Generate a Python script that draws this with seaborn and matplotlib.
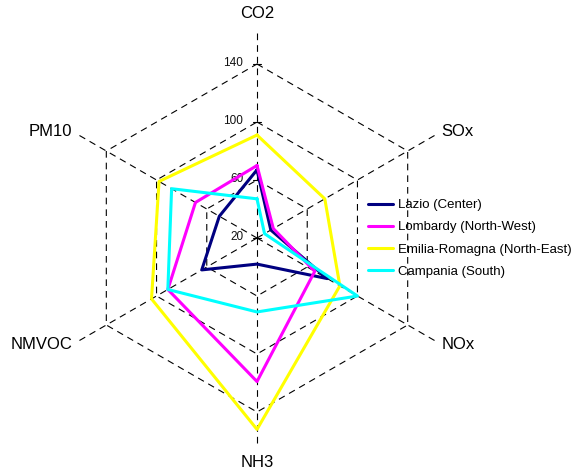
import matplotlib
matplotlib.use("Agg")
import matplotlib.pyplot as plt
import numpy as np
import pandas as pd
import seaborn as sns

# data
pollutants = ["CO2", "SOx", "NOx", "NH3", "NMVOC", "PM10"]
regions = ["Lazio (Center)", "Lombardy (North-West)",
           "Emilia-Romagna (North-East)", "Campania (South)"]
lazio = [67, 31, 76, 38, 64, 50]
lombardy = [70, 33, 66, 119, 91, 69]
emilia = [91, 74, 86, 152, 104, 98]
campania = [47, 26, 100, 71, 91, 88]
ring_values = [20, 60, 100, 140]
colors = ["#000080", "#FF00FF", "#FFFF00", "#00FFFF"]

r_min = ring_values[0]
angles = np.deg2rad(90 - 60 * np.arange(len(pollutants)))

sns.set_style("white")
plt.rcParams["font.family"] = ["Liberation Sans", "DejaVu Sans"]
plt.rcParams["text.color"] = "black"

fig = plt.figure(figsize=(5.78, 4.73), dpi=100)
ax = fig.add_axes([0, 0, 1, 1])
# 1.45 px per unit, center at pixel (257, 238)
scale = 1.45
xlim = (-257 / scale, (578 - 257) / scale)
ylim = (-(473 - 238) / scale, 238 / scale)
ax.axis("off")

grid_kw = dict(color="black", lw=0.8, dashes=(6, 4.5), zorder=1)
# hexagon rings
for v in ring_values[1:]:
    r = v - r_min
    xs = np.append(r * np.cos(angles), r * np.cos(angles[0]))
    ys = np.append(r * np.sin(angles), r * np.sin(angles[0]))
    ax.plot(xs, ys, **grid_kw)
# spokes
r_spoke = (ring_values[-1] - r_min) * 205 / 174
for a in angles:
    ax.plot([0, r_spoke * np.cos(a)], [0, r_spoke * np.sin(a)], **grid_kw)

# tick marks and labels on the vertical value axis
for v in ring_values:
    r = v - r_min
    ax.plot([-2.8, 2.8], [r, r], color="black", lw=0.8, zorder=1)
    ax.text(-9.5, r + 1, str(v), ha="right", va="center", fontsize=8.5, color="#111111")

# category labels
for name, a in zip(pollutants, angles):
    c, s = np.cos(a), np.sin(a)
    if abs(c) < 0.01:
        ax.text(155 * c, 155 * s, name, ha="center", va="center", fontsize=12)
    else:
        ax.text(147 * c, 147 * s, name, ha="left" if c > 0 else "right",
                va="center", fontsize=12)

# series
series = [lazio, lombardy, emilia, campania]
for name, vals, col in zip(regions, series, colors):
    r = np.array(vals + vals[:1], dtype=float) - r_min
    a = np.append(angles, angles[0])
    df = pd.DataFrame({"x": r * np.cos(a), "y": r * np.sin(a)})
    sns.lineplot(data=df, x="x", y="y", sort=False, estimator=None, ax=ax,
                 color=col, lw=2.2, label=name, zorder=3)

ax.set_xlim(*xlim)
ax.set_ylim(*ylim)
ax.legend(loc="upper left", bbox_to_anchor=(368 / 578, 1 - 199 / 473),
          bbox_transform=fig.transFigure, frameon=False, fontsize=9.5,
          handlelength=1.9, handletextpad=0.4, labelspacing=0.75,
          borderpad=0, borderaxespad=0)

plt.savefig("out.png", dpi=100)
